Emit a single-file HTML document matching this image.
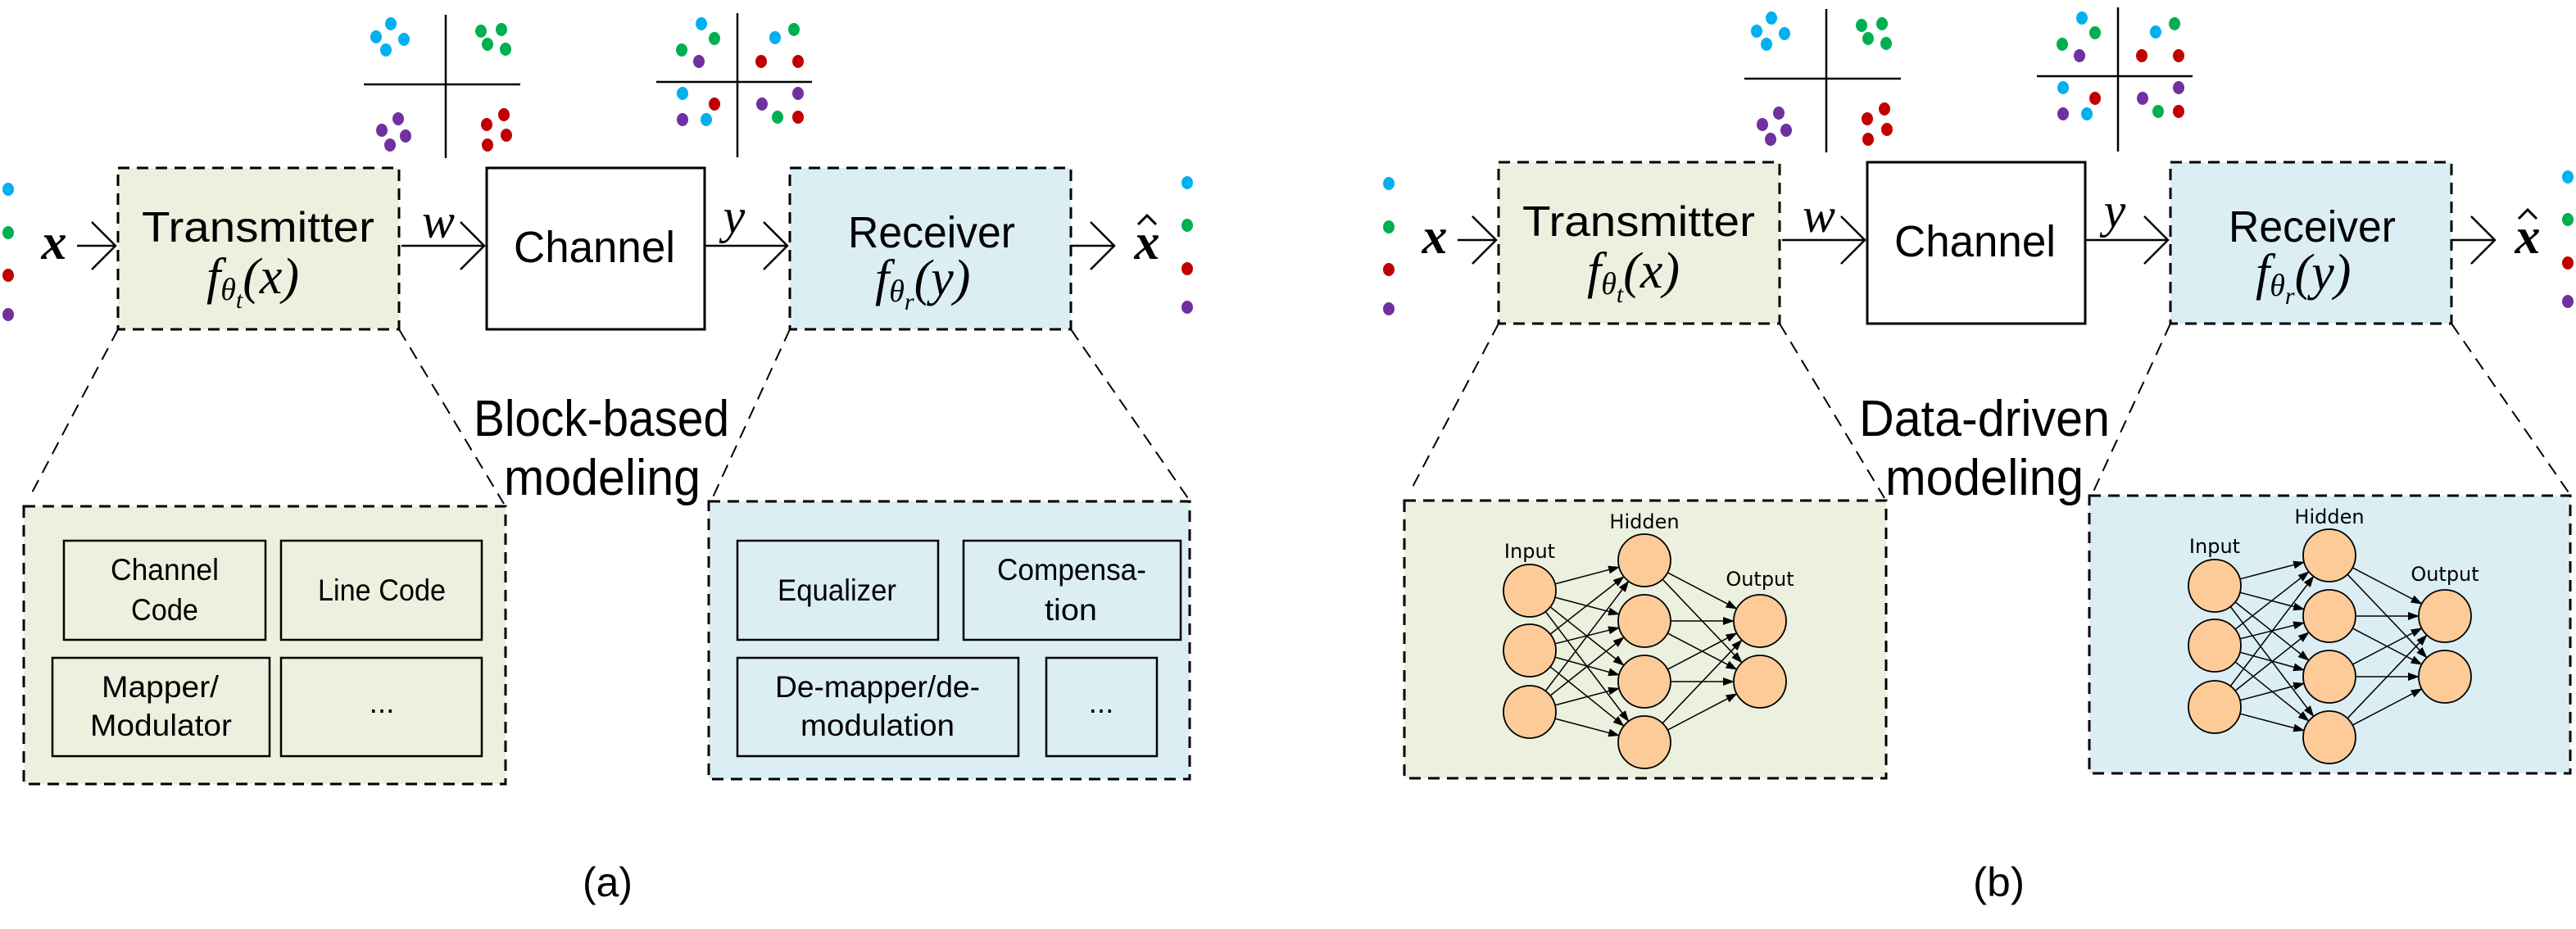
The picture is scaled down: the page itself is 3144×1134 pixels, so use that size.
<!DOCTYPE html>
<html><head><meta charset="utf-8"><style>
html,body{margin:0;padding:0;background:#fff;}
svg{display:block;}
.s{font-family:"Liberation Sans",sans-serif;}
.m{font-family:"Liberation Serif",serif;font-style:italic;}
.nn{font-family:"DejaVu Sans","Liberation Sans",sans-serif;font-size:24px;}
</style></head><body>
<svg width="3144" height="1134" viewBox="0 0 3144 1134" xmlns="http://www.w3.org/2000/svg">
<defs>
<marker id="ah" markerWidth="14" markerHeight="10" refX="13" refY="5" orient="auto" markerUnits="userSpaceOnUse"><path d="M0,0 L14,5 L0,10 z" fill="#000"/></marker>
</defs>
<rect width="3144" height="1134" fill="#fff"/>

<g id="pa">
<g stroke="#000" stroke-width="2.5">
<line x1="444" y1="103" x2="635" y2="103"/><line x1="544" y1="18" x2="544" y2="193"/>
<line x1="801" y1="100" x2="991" y2="100"/><line x1="900" y1="16" x2="900" y2="192"/>
</g>
<g>
<g fill="#00b0f0"><ellipse cx="477" cy="29" rx="7" ry="8"/><ellipse cx="459" cy="45" rx="7" ry="8"/><ellipse cx="493" cy="48" rx="7" ry="8"/><ellipse cx="471" cy="61" rx="7" ry="8"/></g>
<g fill="#00b050"><ellipse cx="587" cy="38" rx="7" ry="8"/><ellipse cx="612" cy="36" rx="7" ry="8"/><ellipse cx="595" cy="54" rx="7" ry="8"/><ellipse cx="617" cy="60" rx="7" ry="8"/></g>
<g fill="#7030a0"><ellipse cx="486" cy="145" rx="7" ry="8"/><ellipse cx="466" cy="159" rx="7" ry="8"/><ellipse cx="495" cy="166" rx="7" ry="8"/><ellipse cx="476" cy="177" rx="7" ry="8"/></g>
<g fill="#c00000"><ellipse cx="615" cy="140" rx="7" ry="8"/><ellipse cx="594" cy="152" rx="7" ry="8"/><ellipse cx="618" cy="165" rx="7" ry="8"/><ellipse cx="595" cy="177" rx="7" ry="8"/></g>
<g fill="#00b0f0"><ellipse cx="856" cy="29" rx="7" ry="8"/><ellipse cx="946" cy="46" rx="7" ry="8"/><ellipse cx="833" cy="114" rx="7" ry="8"/><ellipse cx="862" cy="146" rx="7" ry="8"/></g>
<g fill="#00b050"><ellipse cx="872" cy="47" rx="7" ry="8"/><ellipse cx="969" cy="36" rx="7" ry="8"/><ellipse cx="832" cy="61" rx="7" ry="8"/><ellipse cx="949" cy="143" rx="7" ry="8"/></g>
<g fill="#7030a0"><ellipse cx="853" cy="75" rx="7" ry="8"/><ellipse cx="833" cy="146" rx="7" ry="8"/><ellipse cx="974" cy="114" rx="7" ry="8"/><ellipse cx="930" cy="127" rx="7" ry="8"/></g>
<g fill="#c00000"><ellipse cx="929" cy="75" rx="7" ry="8"/><ellipse cx="974" cy="75" rx="7" ry="8"/><ellipse cx="872" cy="127" rx="7" ry="8"/><ellipse cx="974" cy="143" rx="7" ry="8"/></g>
</g>
<ellipse cx="10" cy="231" rx="7" ry="8" fill="#00b0f0"/><ellipse cx="10" cy="284" rx="7" ry="8" fill="#00b050"/><ellipse cx="10" cy="336" rx="7" ry="8" fill="#c00000"/><ellipse cx="10" cy="384" rx="7" ry="8" fill="#7030a0"/>
<ellipse cx="1449" cy="223" rx="7" ry="8" fill="#00b0f0"/><ellipse cx="1449" cy="275" rx="7" ry="8" fill="#00b050"/><ellipse cx="1449" cy="328" rx="7" ry="8" fill="#c00000"/><ellipse cx="1449" cy="375" rx="7" ry="8" fill="#7030a0"/>
<rect x="144" y="205" width="343" height="197" fill="#ebf1de" stroke="#000" stroke-width="3" stroke-dasharray="14 9"/>
<rect x="594" y="205" width="266" height="197" fill="#fff" stroke="#000" stroke-width="3"/>
<rect x="964" y="205" width="343" height="197" fill="#dbeef4" stroke="#000" stroke-width="3" stroke-dasharray="14 9"/>
<g stroke="#000" stroke-width="2.5" fill="none">
<line x1="94" y1="300" x2="141" y2="300"/><polyline points="112,271 141,300 112,329"/>
<line x1="490" y1="300" x2="591" y2="300"/><polyline points="562,271 591,300 562,329"/>
<line x1="860" y1="300" x2="961" y2="300"/><polyline points="932,271 961,300 932,329"/>
<line x1="1307" y1="300" x2="1360" y2="300"/><polyline points="1331,271 1360,300 1331,329"/>
</g>
<text x="66" y="316" class="m" font-size="62" font-weight="bold" text-anchor="middle">x</text>
<text x="535" y="290" class="m" font-size="60" text-anchor="middle">w</text>
<text x="896" y="284" class="m" font-size="60" text-anchor="middle">y</text>
<text x="1400" y="316" class="m" font-size="62" font-weight="bold" text-anchor="middle">x</text>
<polyline points="1389,274 1400,263 1411,274" fill="none" stroke="#000" stroke-width="3"/>
<text x="173" y="295" class="s" font-size="52" textLength="284" lengthAdjust="spacingAndGlyphs">Transmitter</text>
<text x="252" y="358" class="m" font-size="62">f<tspan font-size="38" dy="8">θ</tspan><tspan font-size="30" dy="10">t</tspan><tspan font-size="62" dy="-18">(x)</tspan></text>
<text x="627" y="320" class="s" font-size="54" textLength="197" lengthAdjust="spacingAndGlyphs">Channel</text>
<text x="1035" y="302" class="s" font-size="54" textLength="204" lengthAdjust="spacingAndGlyphs">Receiver</text>
<text x="1068" y="360" class="m" font-size="62">f<tspan font-size="38" dy="8">θ</tspan><tspan font-size="30" dy="10">r</tspan><tspan font-size="62" dy="-18">(y)</tspan></text>
<g stroke="#000" stroke-width="2" stroke-dasharray="16 10">
<line x1="144" y1="402" x2="36" y2="607"/><line x1="487" y1="402" x2="615" y2="615"/>
<line x1="964" y1="402" x2="870" y2="607"/><line x1="1307" y1="402" x2="1452" y2="611"/>
</g>
<rect x="29" y="618" width="588" height="339" fill="#ebf1de" stroke="#000" stroke-width="3" stroke-dasharray="14 9"/>
<rect x="865" y="612" width="587" height="339" fill="#dbeef4" stroke="#000" stroke-width="3" stroke-dasharray="14 9"/>
</g>

<text x="578" y="532" class="s" font-size="62" textLength="312" lengthAdjust="spacingAndGlyphs">Block-based</text>
<text x="615" y="604" class="s" font-size="62" textLength="240" lengthAdjust="spacingAndGlyphs">modeling</text>
<text x="711" y="1094" class="s" font-size="50" textLength="61" lengthAdjust="spacingAndGlyphs">(a)</text>

<g stroke="#000" stroke-width="2.5" fill="#ebf1de">
<rect x="78" y="660" width="246" height="121"/><rect x="343" y="660" width="245" height="121"/>
<rect x="64" y="803" width="265" height="120"/><rect x="343" y="803" width="245" height="120"/>
</g>
<g stroke="#000" stroke-width="2.5" fill="#dbeef4">
<rect x="900" y="660" width="245" height="121"/><rect x="1176" y="660" width="265" height="121"/>
<rect x="900" y="803" width="343" height="120"/><rect x="1277" y="803" width="135" height="120"/>
</g>
<g class="s" font-size="37">
<text x="135" y="708" textLength="132" lengthAdjust="spacingAndGlyphs">Channel</text>
<text x="160" y="757" textLength="82" lengthAdjust="spacingAndGlyphs">Code</text>
<text x="388" y="733" textLength="156" lengthAdjust="spacingAndGlyphs">Line Code</text>
<text x="124" y="851" textLength="143" lengthAdjust="spacingAndGlyphs">Mapper/</text>
<text x="110" y="898" textLength="173" lengthAdjust="spacingAndGlyphs">Modulator</text>
<text x="466" y="870" text-anchor="middle">...</text>
<text x="949" y="733" textLength="145" lengthAdjust="spacingAndGlyphs">Equalizer</text>
<text x="1217" y="708" textLength="182" lengthAdjust="spacingAndGlyphs">Compensa-</text>
<text x="1275" y="757" textLength="64" lengthAdjust="spacingAndGlyphs">tion</text>
<text x="946" y="851" textLength="250" lengthAdjust="spacingAndGlyphs">De-mapper/de-</text>
<text x="977" y="898" textLength="188" lengthAdjust="spacingAndGlyphs">modulation</text>
<text x="1344" y="870" text-anchor="middle">...</text>
</g>

<g transform="translate(1685,-7)">
<g stroke="#000" stroke-width="2.5">
<line x1="444" y1="103" x2="635" y2="103"/><line x1="544" y1="18" x2="544" y2="193"/>
<line x1="801" y1="100" x2="991" y2="100"/><line x1="900" y1="16" x2="900" y2="192"/>
</g>
<g fill="#00b0f0"><ellipse cx="477" cy="29" rx="7" ry="8"/><ellipse cx="459" cy="45" rx="7" ry="8"/><ellipse cx="493" cy="48" rx="7" ry="8"/><ellipse cx="471" cy="61" rx="7" ry="8"/></g>
<g fill="#00b050"><ellipse cx="587" cy="38" rx="7" ry="8"/><ellipse cx="612" cy="36" rx="7" ry="8"/><ellipse cx="595" cy="54" rx="7" ry="8"/><ellipse cx="617" cy="60" rx="7" ry="8"/></g>
<g fill="#7030a0"><ellipse cx="486" cy="145" rx="7" ry="8"/><ellipse cx="466" cy="159" rx="7" ry="8"/><ellipse cx="495" cy="166" rx="7" ry="8"/><ellipse cx="476" cy="177" rx="7" ry="8"/></g>
<g fill="#c00000"><ellipse cx="615" cy="140" rx="7" ry="8"/><ellipse cx="594" cy="152" rx="7" ry="8"/><ellipse cx="618" cy="165" rx="7" ry="8"/><ellipse cx="595" cy="177" rx="7" ry="8"/></g>
<g fill="#00b0f0"><ellipse cx="856" cy="29" rx="7" ry="8"/><ellipse cx="946" cy="46" rx="7" ry="8"/><ellipse cx="833" cy="114" rx="7" ry="8"/><ellipse cx="862" cy="146" rx="7" ry="8"/></g>
<g fill="#00b050"><ellipse cx="872" cy="47" rx="7" ry="8"/><ellipse cx="969" cy="36" rx="7" ry="8"/><ellipse cx="832" cy="61" rx="7" ry="8"/><ellipse cx="949" cy="143" rx="7" ry="8"/></g>
<g fill="#7030a0"><ellipse cx="853" cy="75" rx="7" ry="8"/><ellipse cx="833" cy="146" rx="7" ry="8"/><ellipse cx="974" cy="114" rx="7" ry="8"/><ellipse cx="930" cy="127" rx="7" ry="8"/></g>
<g fill="#c00000"><ellipse cx="929" cy="75" rx="7" ry="8"/><ellipse cx="974" cy="75" rx="7" ry="8"/><ellipse cx="872" cy="127" rx="7" ry="8"/><ellipse cx="974" cy="143" rx="7" ry="8"/></g>
<ellipse cx="10" cy="231" rx="7" ry="8" fill="#00b0f0"/><ellipse cx="10" cy="284" rx="7" ry="8" fill="#00b050"/><ellipse cx="10" cy="336" rx="7" ry="8" fill="#c00000"/><ellipse cx="10" cy="384" rx="7" ry="8" fill="#7030a0"/>
<ellipse cx="1449" cy="223" rx="7" ry="8" fill="#00b0f0"/><ellipse cx="1449" cy="275" rx="7" ry="8" fill="#00b050"/><ellipse cx="1449" cy="328" rx="7" ry="8" fill="#c00000"/><ellipse cx="1449" cy="375" rx="7" ry="8" fill="#7030a0"/>
<rect x="144" y="205" width="343" height="197" fill="#ebf1de" stroke="#000" stroke-width="3" stroke-dasharray="14 9"/>
<rect x="594" y="205" width="266" height="197" fill="#fff" stroke="#000" stroke-width="3"/>
<rect x="964" y="205" width="343" height="197" fill="#dbeef4" stroke="#000" stroke-width="3" stroke-dasharray="14 9"/>
<g stroke="#000" stroke-width="2.5" fill="none">
<line x1="94" y1="300" x2="141" y2="300"/><polyline points="112,271 141,300 112,329"/>
<line x1="490" y1="300" x2="591" y2="300"/><polyline points="562,271 591,300 562,329"/>
<line x1="860" y1="300" x2="961" y2="300"/><polyline points="932,271 961,300 932,329"/>
<line x1="1307" y1="300" x2="1360" y2="300"/><polyline points="1331,271 1360,300 1331,329"/>
</g>
<text x="66" y="316" class="m" font-size="62" font-weight="bold" text-anchor="middle">x</text>
<text x="535" y="290" class="m" font-size="60" text-anchor="middle">w</text>
<text x="896" y="284" class="m" font-size="60" text-anchor="middle">y</text>
<text x="1400" y="316" class="m" font-size="62" font-weight="bold" text-anchor="middle">x</text>
<polyline points="1389,274 1400,263 1411,274" fill="none" stroke="#000" stroke-width="3"/>
<text x="173" y="295" class="s" font-size="52" textLength="284" lengthAdjust="spacingAndGlyphs">Transmitter</text>
<text x="252" y="358" class="m" font-size="62">f<tspan font-size="38" dy="8">θ</tspan><tspan font-size="30" dy="10">t</tspan><tspan font-size="62" dy="-18">(x)</tspan></text>
<text x="627" y="320" class="s" font-size="54" textLength="197" lengthAdjust="spacingAndGlyphs">Channel</text>
<text x="1035" y="302" class="s" font-size="54" textLength="204" lengthAdjust="spacingAndGlyphs">Receiver</text>
<text x="1068" y="360" class="m" font-size="62">f<tspan font-size="38" dy="8">θ</tspan><tspan font-size="30" dy="10">r</tspan><tspan font-size="62" dy="-18">(y)</tspan></text>
<g stroke="#000" stroke-width="2" stroke-dasharray="16 10">
<line x1="144" y1="402" x2="36" y2="607"/><line x1="487" y1="402" x2="615" y2="615"/>
<line x1="964" y1="402" x2="870" y2="607"/><line x1="1307" y1="402" x2="1452" y2="611"/>
</g>
<rect x="29" y="618" width="588" height="339" fill="#ebf1de" stroke="#000" stroke-width="3" stroke-dasharray="14 9"/>
<rect x="865" y="612" width="587" height="339" fill="#dbeef4" stroke="#000" stroke-width="3" stroke-dasharray="14 9"/>

<g transform="translate(29,618)">
<g stroke="#000" stroke-width="1.5" marker-end="url(#ah)">
<line x1="183.9" y1="101.8" x2="262.1" y2="81.2"/><line x1="183.9" y1="118.2" x2="262.1" y2="138.8"/><line x1="178.1" y1="129.9" x2="267.9" y2="201.1"/><line x1="172.3" y1="135.5" x2="273.7" y2="269.5"/>
<line x1="178.1" y1="163.1" x2="267.9" y2="92.9"/><line x1="183.9" y1="174.8" x2="262.1" y2="155.2"/><line x1="183.9" y1="191.2" x2="262.1" y2="212.8"/><line x1="178.1" y1="202.9" x2="267.9" y2="275.1"/>
<line x1="172.3" y1="232.5" x2="273.7" y2="98.5"/><line x1="178.1" y1="238.1" x2="267.9" y2="166.9"/><line x1="183.9" y1="249.8" x2="262.1" y2="229.2"/><line x1="183.9" y1="266.2" x2="262.1" y2="286.8"/>
<line x1="321.3" y1="87.9" x2="405.7" y2="132.1"/><line x1="315.1" y1="96.2" x2="411.9" y2="197.8"/><line x1="325" y1="147" x2="402" y2="147"/><line x1="321.3" y1="161.9" x2="405.7" y2="206.1"/>
<line x1="321.3" y1="206.1" x2="405.7" y2="161.9"/><line x1="325" y1="221" x2="402" y2="221"/><line x1="315.1" y1="271.8" x2="411.9" y2="170.2"/><line x1="321.3" y1="280.1" x2="405.7" y2="235.9"/>
</g>
<g fill="#fdcb97" stroke="#000" stroke-width="1.8">
<circle cx="153" cy="110" r="32"/><circle cx="153" cy="183" r="32"/><circle cx="153" cy="258" r="32"/>
<circle cx="293" cy="73" r="32"/><circle cx="293" cy="147" r="32"/><circle cx="293" cy="221" r="32"/><circle cx="293" cy="295" r="32"/>
<circle cx="434" cy="147" r="32"/><circle cx="434" cy="221" r="32"/>
</g>
<text x="153" y="70" class="nn" text-anchor="middle">Input</text>
<text x="293" y="34" class="nn" text-anchor="middle">Hidden</text>
<text x="434" y="104" class="nn" text-anchor="middle">Output</text>
</g>
<g transform="translate(865,612)">
<g stroke="#000" stroke-width="1.5" marker-end="url(#ah)">
<line x1="183.9" y1="101.8" x2="262.1" y2="81.2"/><line x1="183.9" y1="118.2" x2="262.1" y2="138.8"/><line x1="178.1" y1="129.9" x2="267.9" y2="201.1"/><line x1="172.3" y1="135.5" x2="273.7" y2="269.5"/>
<line x1="178.1" y1="163.1" x2="267.9" y2="92.9"/><line x1="183.9" y1="174.8" x2="262.1" y2="155.2"/><line x1="183.9" y1="191.2" x2="262.1" y2="212.8"/><line x1="178.1" y1="202.9" x2="267.9" y2="275.1"/>
<line x1="172.3" y1="232.5" x2="273.7" y2="98.5"/><line x1="178.1" y1="238.1" x2="267.9" y2="166.9"/><line x1="183.9" y1="249.8" x2="262.1" y2="229.2"/><line x1="183.9" y1="266.2" x2="262.1" y2="286.8"/>
<line x1="321.3" y1="87.9" x2="405.7" y2="132.1"/><line x1="315.1" y1="96.2" x2="411.9" y2="197.8"/><line x1="325" y1="147" x2="402" y2="147"/><line x1="321.3" y1="161.9" x2="405.7" y2="206.1"/>
<line x1="321.3" y1="206.1" x2="405.7" y2="161.9"/><line x1="325" y1="221" x2="402" y2="221"/><line x1="315.1" y1="271.8" x2="411.9" y2="170.2"/><line x1="321.3" y1="280.1" x2="405.7" y2="235.9"/>
</g>
<g fill="#fdcb97" stroke="#000" stroke-width="1.8">
<circle cx="153" cy="110" r="32"/><circle cx="153" cy="183" r="32"/><circle cx="153" cy="258" r="32"/>
<circle cx="293" cy="73" r="32"/><circle cx="293" cy="147" r="32"/><circle cx="293" cy="221" r="32"/><circle cx="293" cy="295" r="32"/>
<circle cx="434" cy="147" r="32"/><circle cx="434" cy="221" r="32"/>
</g>
<text x="153" y="70" class="nn" text-anchor="middle">Input</text>
<text x="293" y="34" class="nn" text-anchor="middle">Hidden</text>
<text x="434" y="104" class="nn" text-anchor="middle">Output</text>
</g>
</g>

<text x="2269" y="532" class="s" font-size="62" textLength="306" lengthAdjust="spacingAndGlyphs">Data-driven</text>
<text x="2301" y="604" class="s" font-size="62" textLength="242" lengthAdjust="spacingAndGlyphs">modeling</text>
<text x="2408" y="1094" class="s" font-size="50" textLength="63" lengthAdjust="spacingAndGlyphs">(b)</text>
</svg>
</body></html>
